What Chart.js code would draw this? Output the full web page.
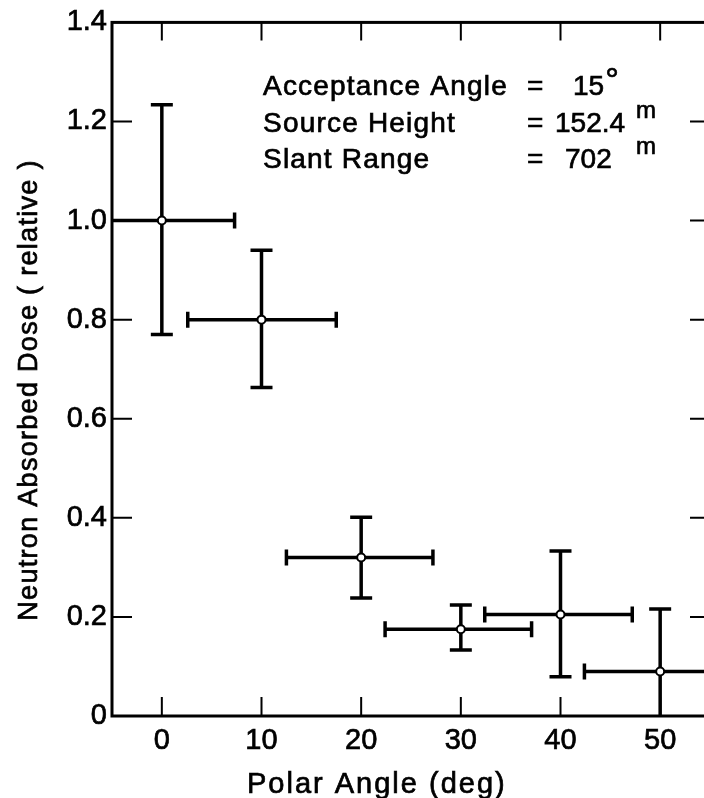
<!DOCTYPE html>
<html>
<head>
<meta charset="utf-8">
<script src="https://cdn.jsdelivr.net/npm/chart.js@4/dist/chart.umd.min.js"></script>
<style>
  html, body { margin: 0; padding: 0; background: #fff; overflow: hidden; }
  #wrap { width: 716px; height: 798px; }
</style>
</head>
<body>
<div id="wrap"><canvas id="chart" width="716" height="798"></canvas></div>
<script>
// ── Data ─────────────────────────────────────────────────────
const angles    = [0, 10, 20, 30, 40, 50];
const dose      = [1.0, 0.80, 0.32, 0.175, 0.205, 0.09];
const doseLow   = [0.77, 0.663, 0.238, 0.133, 0.079, -0.03];
const doseHigh  = [1.234, 0.94, 0.401, 0.224, 0.333, 0.216];
const angleLow  = [-7.5, 2.6, 12.5, 22.4, 32.4, 42.4];
const angleHigh = [7.3, 17.5, 27.2, 37.1, 47.2, 57.3];

const xTicks = [0, 10, 20, 30, 40, 50];
const yTicks = [0, 0.2, 0.4, 0.6, 0.8, 1.0, 1.2, 1.4];

const noteLabels = ['Acceptance Angle', 'Source Height', 'Slant Range'];
const noteValues = ['15', '152.4', '702'];
const noteUnits  = ['°', 'm', 'm'];

const FONT = '"Liberation Sans", Arial, sans-serif';

// heavier "pen" lettering: fill plus a thin stroke
function penText(ctx, text, x, y) {
  ctx.fillText(text, x, y);
  ctx.strokeText(text, x, y);
}

// ── Error bars, frame, inward ticks, titles ──────────────────
const paperPlugin = {
  id: 'paper',
  beforeDatasetsDraw(chart) {
    const { ctx, chartArea: a, scales: { x, y } } = chart;
    ctx.save();
    ctx.beginPath();
    ctx.rect(a.left, a.top, a.right - a.left, a.bottom - a.top);
    ctx.clip();
    ctx.strokeStyle = '#000';
    ctx.lineWidth = 3.5;
    angles.forEach((v, i) => {
      const px = x.getPixelForValue(v);
      const py = y.getPixelForValue(dose[i]);
      const x0 = x.getPixelForValue(angleLow[i]);
      const x1 = x.getPixelForValue(angleHigh[i]);
      const y0 = y.getPixelForValue(doseLow[i]);
      const y1 = y.getPixelForValue(doseHigh[i]);
      ctx.beginPath();
      ctx.moveTo(x0, py); ctx.lineTo(x1, py);
      ctx.moveTo(px, y0); ctx.lineTo(px, y1);
      ctx.moveTo(x0, py - 8); ctx.lineTo(x0, py + 8);
      ctx.moveTo(x1, py - 8); ctx.lineTo(x1, py + 8);
      ctx.moveTo(px - 11, y0); ctx.lineTo(px + 11, y0);
      ctx.moveTo(px - 11, y1); ctx.lineTo(px + 11, y1);
      ctx.stroke();
    });
    ctx.restore();
  },
  afterDraw(chart) {
    const { ctx, chartArea: a, scales: { x, y } } = chart;
    ctx.save();
    ctx.strokeStyle = '#000';
    ctx.lineWidth = 3;
    ctx.strokeRect(a.left, a.top, a.right - a.left, a.bottom - a.top);

    ctx.lineWidth = 2;
    ctx.beginPath();
    xTicks.forEach(v => {
      const px = x.getPixelForValue(v);
      ctx.moveTo(px, a.top);    ctx.lineTo(px, a.top + 18);
      ctx.moveTo(px, a.bottom); ctx.lineTo(px, a.bottom - 19);
    });
    yTicks.slice(1, -1).forEach(v => {
      const py = y.getPixelForValue(v);
      ctx.moveTo(a.left, py);  ctx.lineTo(a.left + 20, py);
      ctx.moveTo(a.right, py); ctx.lineTo(a.right - 20, py);
    });
    ctx.stroke();

    ctx.fillStyle = '#000';
    ctx.lineWidth = 0.7;
    ctx.letterSpacing = '2px';

    // x title
    ctx.font = '29px ' + FONT;
    ctx.textAlign = 'left';
    ctx.textBaseline = 'alphabetic';
    penText(ctx, 'Polar Angle (deg)', 247, 793);

    // y title
    ctx.save();
    ctx.translate(37, 390);
    ctx.rotate(-Math.PI / 2);
    ctx.textAlign = 'center';
    ctx.font = '27px ' + FONT;
    ctx.letterSpacing = '1.3px';
    penText(ctx, 'Neutron Absorbed Dose ( relative )', 0, 0);
    ctx.restore();

    // annotation block
    const baselines = [95, 132, 168];
    const valueX    = [573, 555, 565];
    ctx.textAlign = 'left';
    noteLabels.forEach((t, i) => {
      ctx.font = '28px ' + FONT;
      ctx.letterSpacing = '1.2px';
      penText(ctx, t, 263, baselines[i]);
      penText(ctx, '=', 527, baselines[i]);
      ctx.letterSpacing = '0px';
      penText(ctx, noteValues[i], valueX[i], baselines[i]);
      const w = ctx.measureText(noteValues[i]).width;
      if (noteUnits[i] === '°') {
        ctx.font = '34px ' + FONT;
        penText(ctx, '°', valueX[i] + w + 1, baselines[i] - 4);
      } else {
        ctx.font = '24px ' + FONT;
        penText(ctx, 'm', 636, baselines[i] - 14);
      }
    });
    ctx.restore();
  }
};

new Chart(document.getElementById('chart'), {
  type: 'scatter',
  data: {
    datasets: [{
      data: angles.map((v, i) => ({ x: v, y: dose[i] })),
      pointStyle: 'circle',
      pointRadius: 4,
      pointBorderWidth: 2,
      pointBackgroundColor: '#fff',
      pointBorderColor: '#000',
    }]
  },
  options: {
    responsive: false,
    animation: false,
    layout: { padding: { top: 22, right: 4, left: 0, bottom: 0 } },
    plugins: { legend: { display: false }, tooltip: { enabled: false } },
    scales: {
      x: {
        type: 'linear', min: -5, max: 55,
        afterBuildTicks: s => { s.ticks = xTicks.map(v => ({ value: v })); },
        afterFit: s => { s.height = 82; },
        grid: { display: false, drawTicks: false },
        border: { display: false },
        ticks: {
          color: '#000', textStrokeColor: '#000', textStrokeWidth: 0.7, padding: 8,
          font: { family: FONT, size: 29 }, callback: v => String(v)
        }
      },
      y: {
        type: 'linear', min: 0, max: 1.4,
        afterBuildTicks: s => { s.ticks = yTicks.map(v => ({ value: v })); },
        afterFit: s => { s.width = 112; },
        grid: { display: false, drawTicks: false },
        border: { display: false },
        ticks: {
          color: '#000', textStrokeColor: '#000', textStrokeWidth: 0.7, padding: 5,
          font: { family: FONT, size: 29 }, callback: v => v === 0 ? '0' : v.toFixed(1)
        }
      }
    }
  },
  plugins: [paperPlugin]
});
</script>
</body>
</html>
